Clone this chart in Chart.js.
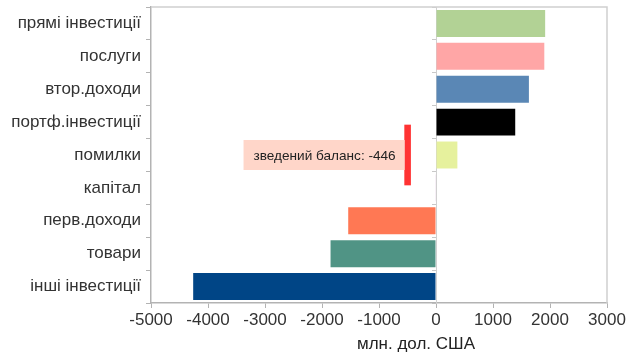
<!DOCTYPE html>
<html>
<head>
<meta charset="utf-8">
<script src="https://cdn.jsdelivr.net/npm/chart.js@4"></script>
<style>
  html, body { margin: 0; padding: 0; background: #fff; }
  #wrap { width: 631px; height: 353px; }
</style>
</head>
<body>
<div id="wrap"><canvas id="c"></canvas></div>
<script>
// categories, top to bottom
const labels = ['прямі інвестиції', 'послуги', 'втор.доходи', 'портф.інвестиції',
                'помилки', 'капітал', 'перв.доходи', 'товари', 'інші інвестиції'];
// млн. дол. США
const values = [1915, 1900, 1630, 1390, 375, -6, -1540, -1850, -4260];
const colors = ['#b2d295', '#ffa6a6', '#5a87b5', '#000000', '#e6f19d',
                '#c8a2c8', '#ff7854', '#509485', '#004586'];

// summary balance marker
const balance = -446;
const balanceFrom = -550;
const balanceRow = 'помилки';
const balanceText = 'зведений баланс: ' + balance;

const xTicks = [-5000, -4000, -3000, -2000, -1000, 0, 1000, 2000, 3000];
const axisTitle = 'млн. дол. США';

const FONT = '"Liberation Sans", Arial, sans-serif';
const AXIS = '#b3b3b3';

const decor = {
  id: 'decor',
  afterDatasetsDraw(chart) {
    const { ctx, chartArea: a } = chart;
    // frame top / right
    ctx.save();
    ctx.strokeStyle = '#d0d0d0';
    ctx.lineWidth = 1.5;
    ctx.beginPath();
    ctx.moveTo(a.left, a.top);
    ctx.lineTo(a.right, a.top);
    ctx.lineTo(a.right, a.bottom);
    ctx.stroke();

    // label box for balance bar
    const el = chart.getDatasetMeta(1).data[labels.indexOf(balanceRow)];
    if (el) {
      const left = Math.min(el.x, el.base);
      ctx.font = '13.6px ' + FONT;
      const w = ctx.measureText(balanceText).width + 19;
      const h = 30;
      ctx.fillStyle = '#ffd6c9';
      ctx.fillRect(left - w, el.y - h / 2, w, h);
      ctx.fillStyle = '#222';
      ctx.textBaseline = 'middle';
      ctx.fillText(balanceText, left - w + 10, el.y + 1);
    }

    // axis title
    ctx.font = '17px ' + FONT;
    ctx.fillStyle = '#222';
    ctx.textAlign = 'center';
    ctx.textBaseline = 'middle';
    ctx.fillText(axisTitle, 416, 344);
    ctx.restore();
  }
};

new Chart(document.getElementById('c'), {
  type: 'bar',
  data: {
    labels,
    datasets: [{
      data: values,
      backgroundColor: colors,
      barPercentage: 1,
      categoryPercentage: 0.82,
      grouped: false
    }, {
      data: labels.map(l => l === balanceRow ? [balanceFrom, balance] : null),
      backgroundColor: '#ff3333',
      barThickness: 60,
      grouped: false
    }]
  },
  options: {
    indexAxis: 'y',
    responsive: true,
    maintainAspectRatio: false,
    animation: false,
    layout: { padding: { top: 7, right: 24, left: 0, bottom: 0 } },
    plugins: { legend: { display: false }, tooltip: { enabled: false } },
    scales: {
      x: {
        min: xTicks[0],
        max: xTicks[xTicks.length - 1],
        afterBuildTicks: s => { s.ticks = xTicks.map(v => ({ value: v })); },
        grid: { drawOnChartArea: false, tickLength: 5, color: AXIS },
        border: { color: AXIS, width: 1.5 },
        ticks: { font: { family: FONT, size: 17 }, color: '#333', padding: 2, maxRotation: 0,
                 callback: v => String(v) },
        afterFit: s => { s.height = 50; s.paddingLeft = 0; s.paddingRight = 0; }
      },
      y: {
        grid: { drawOnChartArea: false, offset: true, tickLength: 5, color: AXIS },
        border: { color: AXIS, width: 1.5 },
        ticks: { font: { family: FONT, size: 17 }, color: '#333', padding: 5 },
        afterFit: s => { s.width = 151; s.paddingTop = 0; s.paddingBottom = 0; }
      },
      yz: {
        type: 'category',
        labels,
        position: { x: 0 },
        offset: true,
        grid: { drawOnChartArea: false, offset: true, tickLength: 4, color: '#c8c8c8' },
        border: { color: '#d0d0d0', width: 1 },
        ticks: { display: false },
        afterFit: s => { s.paddingTop = 0; s.paddingBottom = 0; }
      }
    }
  },
  plugins: [decor]
});
</script>
</body>
</html>
